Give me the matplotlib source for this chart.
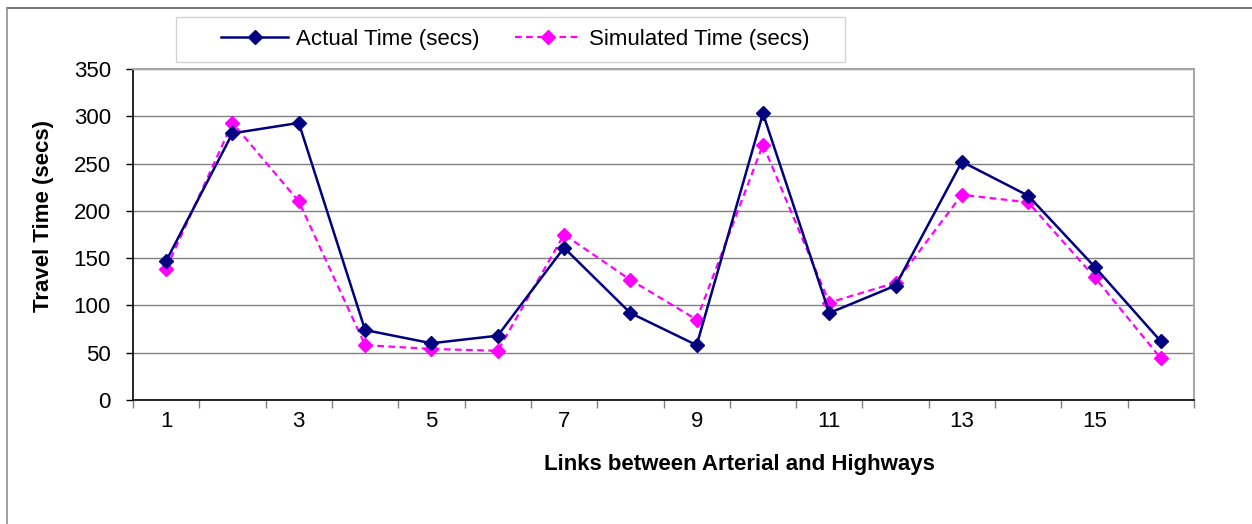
import matplotlib
matplotlib.use('Agg')
import matplotlib.pyplot as plt
from matplotlib.lines import Line2D
from matplotlib.patches import Rectangle

links = list(range(1, 17))
actual_time = [147, 282, 293, 74, 60, 68, 161, 92, 58, 303, 92, 121, 252, 216, 141, 62]
simulated_time = [139, 293, 210, 58, 54, 52, 175, 127, 85, 270, 103, 124, 217, 209, 130, 44]
x_tick_labels = ['1', '3', '5', '7', '9', '11', '13', '15']
y_ticks = [0, 50, 100, 150, 200, 250, 300, 350]

plt.rcParams['font.family'] = ['Liberation Sans', 'DejaVu Sans']

W, H = 1252, 524
fig = plt.figure(figsize=(W / 100, H / 100), dpi=100)
ax = fig.add_axes([133 / W, 1 - 400 / H, (1194 - 133) / W, (400 - 69) / H])

l1, = ax.plot(links, actual_time, color='#000080', lw=1.8, marker='D', ms=7,
              label='Actual Time (secs)', zorder=4)
l2, = ax.plot(links, simulated_time, color='#FF00FF', lw=1.6, ls=(0, (3, 2)), marker='D', ms=7,
              label='Simulated Time (secs)', zorder=3)

ax.set_xlim(0.5, 16.5)
ax.set_ylim(0, 350)
ax.set_yticks(y_ticks)
ax.yaxis.grid(True, color='#808080', lw=1)
ax.set_axisbelow(True)

# ticks on category boundaries, labels on every other category
ax.set_xticks([i + 0.5 for i in range(0, 17)])
ax.set_xticklabels([])
ax.set_xticks([int(s) for s in x_tick_labels], minor=True)
ax.set_xticklabels(x_tick_labels, minor=True)
ax.tick_params(axis='x', which='major', direction='out', length=6, width=1, color='#808080')
ax.tick_params(axis='x', which='minor', length=0, pad=8, labelsize=16)
ax.tick_params(axis='y', direction='out', length=5, width=1, pad=11, labelsize=16)

for side in ['top', 'right']:
    ax.spines[side].set_color('#a8a8a8')
    ax.spines[side].set_linewidth(1.5)
for side in ['left', 'bottom']:
    ax.spines[side].set_color('black')
    ax.spines[side].set_linewidth(1.2)

ax.set_xlabel('Links between Arterial and Highways', fontsize=16, fontweight='bold')
ax.set_ylabel('Travel Time (secs)', fontsize=16, fontweight='bold')
ax.xaxis.set_label_coords((739 - 133) / 1061, -0.163)
ax.yaxis.set_label_coords((54 - 133) / 1061, 0.556)

# legend, framed by hand
fig.legend(handles=[l1, l2], loc='center', bbox_to_anchor=(515.5 / W, 1 - 39.5 / H),
           ncol=2, frameon=False, fontsize=16, handlelength=3.0, handletextpad=0.35,
           columnspacing=1.6, borderpad=0)
fig.add_artist(Rectangle((176 / W, 1 - 62 / H), (845 - 176) / W, 45 / H,
                         transform=fig.transFigure, fill=False, ec='#d4d4d4', lw=1))

# outer chart border (only top and left show in the crop)
fig.add_artist(Line2D([7 / W, 1], [1 - 8 / H, 1 - 8 / H], transform=fig.transFigure, color='#606060', lw=1.2))
fig.add_artist(Line2D([7 / W, 7 / W], [0, 1 - 8 / H], transform=fig.transFigure, color='#909090', lw=1.2))

fig.savefig('out.png', dpi=100)
